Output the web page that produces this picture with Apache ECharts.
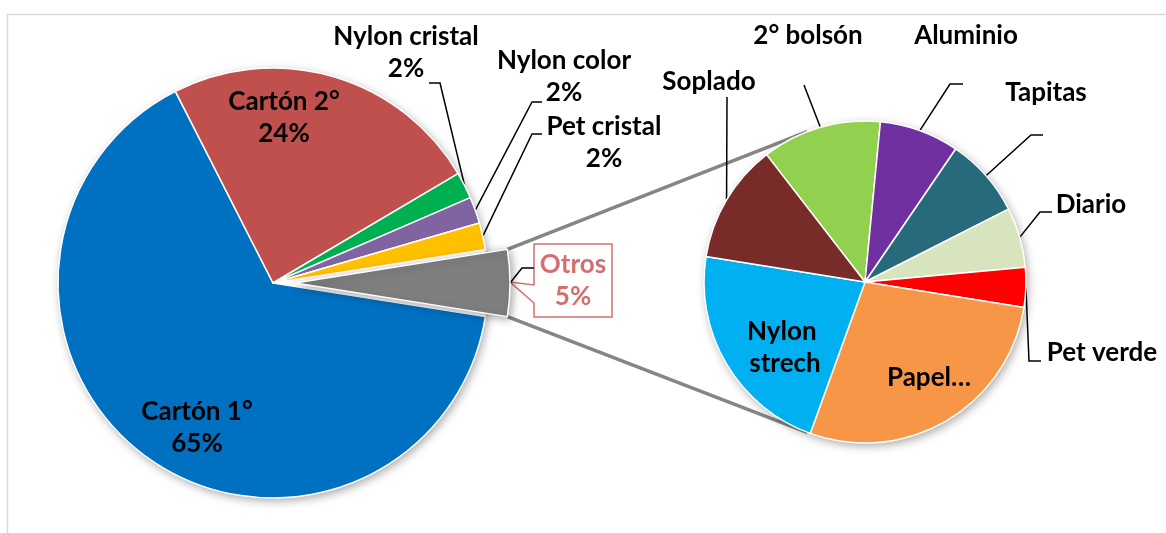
<!DOCTYPE html>
<html><head><meta charset="utf-8">
<script src="https://cdn.jsdelivr.net/npm/echarts@6/dist/echarts.min.js"></script>
<style>html,body{margin:0;padding:0;background:#fff}#c{width:1166px;height:533px}</style>
</head><body><div id="c"></div>
<script>
// ---------- data ----------
const MAIN_CATEGORIES = ['Cartón 1°', 'Cartón 2°', 'Nylon cristal', 'Nylon color', 'Pet cristal', 'Otros'];
const MAIN_VALUES = [65, 24, 2, 2, 2, 5];
const OTHERS_NAME = 'Otros';
const SUB_CATEGORIES = ['2° bolsón', 'Aluminio', 'Tapitas', 'Diario', 'Pet verde', 'Papel…', 'Nylon strech', 'Soplado'];
const SUB_VALUES = [0.6, 0.4, 0.4, 0.3, 0.2, 1.4, 1.1, 0.6];

// ---------- style / layout ----------
const MAIN_COLORS = ['#0070C0', '#C0504D', '#00B050', '#8064A2', '#FFC000', '#7F7F7F'];
const SUB_COLORS = ['#92D050', '#7030A0', '#276A7C', '#D7E4BD', '#FF0000', '#F79646', '#00B0F0', '#772C2A'];
const MAIN_CENTER = [273, 283], MAIN_R = 215, EXPLODE = 22;
const SUB_CENTER = [865, 282], SUB_R = 161, SUB_START = 127.7, CONNECT_ANGLE = 111;
const CALLOUT_COLOR = '#D46F6F';
const FONT = { fontFamily: 'Lato', fontWeight: 'bold', fontSize: 26, lineHeight: 32, color: '#000' };

const LABELS = {
  'Cartón 1°': { x: 197, y: 428 },
  'Cartón 2°': { x: 284, y: 118 },
  'Nylon cristal': { x: 406, y: 53, line: [[440, 83], [429, 83]] },
  'Nylon color': { x: 564, y: 77, line: [[532, 102], [542, 102]] },
  'Pet cristal': { x: 604, y: 143, line: [[532, 134], [542, 134]] },
  'Otros': { x: 573, y: 281, line: [[522, 268], [534, 268]] },
  'Soplado': { x: 709, y: 82, line: [[727, 97]] },
  '2° bolsón': { x: 808, y: 36, line: [[804, 85]] },
  'Aluminio': { x: 966, y: 36, line: [[950, 84], [963, 84]] },
  'Tapitas': { x: 1046, y: 93, line: [[1031, 135], [1043, 135]] },
  'Diario': { x: 1091, y: 205, line: [[1040, 212], [1052, 212]] },
  'Pet verde': { x: 1102, y: 353, line: [[1029, 361], [1041, 361]] },
  'Nylon strech': { x: 785, y: 348 },
  'Papel…': { x: 929, y: 378 }
};
const INSIDE = ['Cartón 1°', 'Cartón 2°', 'Nylon strech', 'Papel…'];
const CALLOUT = { left: 534, top: 244, right: 612, bottom: 317, baseTop: 285, baseBottom: 303, tip: [510, 282] };

// ---------- derived geometry ----------
const total = MAIN_VALUES.reduce((a, b) => a + b, 0);
const oIdx = MAIN_CATEGORIES.indexOf(OTHERS_NAME);
const before = MAIN_VALUES.slice(0, oIdx).reduce((a, b) => a + b, 0);
const MAIN_START = 360 * (before + MAIN_VALUES[oIdx] / 2) / total; // Otros centred at 0°
const midDeg = MAIN_START - 360 * (before + MAIN_VALUES[oIdx] / 2) / total;
const halfDeg = 180 * MAIN_VALUES[oIdx] / total;
const rad = d => d * Math.PI / 180;
const exCenter = [MAIN_CENTER[0] + EXPLODE * Math.cos(rad(midDeg)), MAIN_CENTER[1] - EXPLODE * Math.sin(rad(midDeg))];
const cornerTop = [exCenter[0] + MAIN_R * Math.cos(rad(midDeg + halfDeg)), exCenter[1] - MAIN_R * Math.sin(rad(midDeg + halfDeg))];
const cornerBot = [exCenter[0] + MAIN_R * Math.cos(rad(midDeg - halfDeg)), exCenter[1] - MAIN_R * Math.sin(rad(midDeg - halfDeg))];
const subTop = [SUB_CENTER[0] + SUB_R * Math.cos(rad(CONNECT_ANGLE)), SUB_CENTER[1] - SUB_R * Math.sin(rad(CONNECT_ANGLE))];
const subBot = [SUB_CENTER[0] + SUB_R * Math.cos(rad(-CONNECT_ANGLE)), SUB_CENTER[1] - SUB_R * Math.sin(rad(-CONNECT_ANGLE))];

function layoutFor(categories) {
  return function (params) {
    const spec = LABELS[categories[params.dataIndex]];
    if (!spec) return {};
    const out = { x: spec.x, y: spec.y, align: 'center', verticalAlign: 'middle' };
    if (spec.line && params.labelLinePoints) {
      out.labelLinePoints = [params.labelLinePoints[0]].concat(spec.line);
    }
    return out;
  };
}

const HIDDEN = { itemStyle: { color: 'rgba(0,0,0,0)', borderWidth: 0 }, label: { show: false }, labelLine: { show: false } };
const BORDER = { borderColor: '#fff', borderWidth: 1.5 };

const mainData = MAIN_CATEGORIES.map((n, i) => {
  if (n === OTHERS_NAME) return Object.assign({ name: n, value: MAIN_VALUES[i] }, HIDDEN);
  const d = { name: n, value: MAIN_VALUES[i], itemStyle: Object.assign({ color: MAIN_COLORS[i] }, BORDER) };
  if (INSIDE.includes(n)) d.labelLine = { show: false };
  return d;
});
const explodedData = MAIN_CATEGORIES.map((n, i) => {
  if (n !== OTHERS_NAME) return Object.assign({ name: n, value: MAIN_VALUES[i] }, HIDDEN);
  return {
    name: n, value: MAIN_VALUES[i],
    itemStyle: Object.assign({ color: MAIN_COLORS[i], shadowBlur: 8, shadowColor: 'rgba(0,0,0,0.35)', shadowOffsetX: 2, shadowOffsetY: 2 }, BORDER),
    label: { color: CALLOUT_COLOR }
  };
});
const subData = SUB_CATEGORIES.map((n, i) => {
  const d = { name: n, value: SUB_VALUES[i], itemStyle: Object.assign({ color: SUB_COLORS[i] }, BORDER) };
  if (INSIDE.includes(n)) d.labelLine = { show: false };
  if (n === 'Nylon strech') d.label = { width: 100, overflow: 'break' };
  return d;
});

const pieBase = {
  type: 'pie', animation: false, avoidLabelOverlap: false, percentPrecision: 0,
  emphasis: { disabled: true }, clockwise: true,
  labelLine: { show: true, length: 5, length2: 5, smooth: false, lineStyle: { color: '#000', width: 1.5 } }
};
const shadowCircle = (center, r) => ({
  type: 'pie', silent: true, animation: false, center: center, radius: r,
  label: { show: false }, labelLine: { show: false }, emphasis: { disabled: true },
  data: [{ value: 1, itemStyle: { color: '#fff', shadowBlur: 10, shadowColor: 'rgba(0,0,0,0.35)', shadowOffsetX: 2, shadowOffsetY: 3 } }]
});

const line = (p1, p2, color, w) => ({ type: 'line', shape: { x1: p1[0], y1: p1[1], x2: p2[0], y2: p2[1] }, style: { stroke: color, lineWidth: w }, silent: true });
const c = CALLOUT;

const option = {
  backgroundColor: '#fff',
  graphic: [
    line([7, 14.5], [1166, 14.5], '#D9D9D9', 1.5),
    line([7.5, 14], [7.5, 533], '#D9D9D9', 1.5),
    line(cornerTop, subTop, '#868686', 3.5),
    line(cornerBot, subBot, '#868686', 3.5),
    {
      type: 'polygon', silent: true,
      shape: { points: [[c.left, c.top], [c.right, c.top], [c.right, c.bottom], [c.left, c.bottom], [c.left, c.baseBottom], c.tip, [c.left, c.baseTop]] },
      style: { fill: '#fff', stroke: CALLOUT_COLOR, lineWidth: 1.5 }
    }
  ],
  series: [
    shadowCircle(MAIN_CENTER, MAIN_R),
    shadowCircle(SUB_CENTER, SUB_R),
    Object.assign({}, pieBase, {
      center: MAIN_CENTER, radius: MAIN_R, startAngle: MAIN_START, data: mainData,
      label: Object.assign({ show: true, position: 'outside', formatter: p => p.name + '\n' + p.percent + '%' }, FONT),
      labelLayout: layoutFor(MAIN_CATEGORIES)
    }),
    Object.assign({}, pieBase, {
      center: exCenter, radius: MAIN_R, startAngle: MAIN_START, data: explodedData,
      label: Object.assign({ show: true, position: 'outside', formatter: p => p.name + '\n' + p.percent + '%' }, FONT),
      labelLayout: layoutFor(MAIN_CATEGORIES)
    }),
    Object.assign({}, pieBase, {
      center: SUB_CENTER, radius: SUB_R, startAngle: SUB_START, data: subData,
      label: Object.assign({ show: true, position: 'outside', formatter: '{b}' }, FONT),
      labelLayout: layoutFor(SUB_CATEGORIES)
    })
  ]
};
const chart = echarts.init(document.getElementById('c'), null, { renderer: 'canvas' });
chart.setOption(option);
</script></body></html>
